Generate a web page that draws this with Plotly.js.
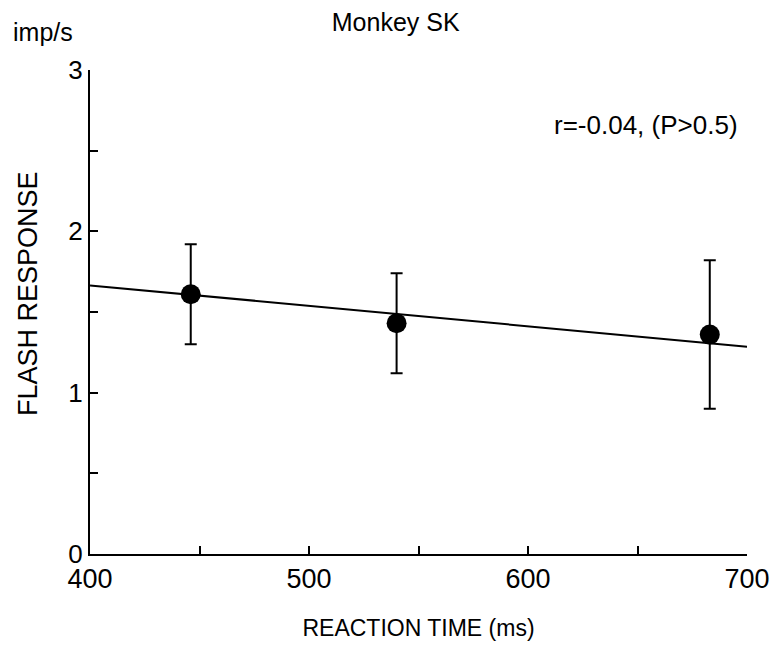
<!DOCTYPE html>
<html>
<head>
<meta charset="utf-8">
<script src="https://cdn.plot.ly/plotly-3.0.1.min.js"></script>
<style>
  body { margin: 0; background: #fff; }
  #chart { width: 782px; height: 648px; }
</style>
</head>
<body>
<div id="chart"></div>
<script>
// reaction time bins (ms) and mean flash response (imp/s)
var rt = [446, 540, 683];
var resp = [1.61, 1.43, 1.36];
var err = [0.31, 0.31, 0.46];

// regression line ends
var fitX = [400, 700];
var fitY = [1.665, 1.285];

var FONT = "Liberation Sans, Arial, sans-serif";

var points = {
    x: rt,
    y: resp,
    type: "scatter",
    mode: "markers",
    marker: { color: "black", size: 20 },
    error_y: {
        type: "data",
        array: err,
        visible: true,
        color: "black",
        thickness: 2,
        width: 6
    },
    hoverinfo: "none"
};

var fit = {
    x: fitX,
    y: fitY,
    type: "scatter",
    mode: "lines",
    line: { color: "black", width: 2 },
    hoverinfo: "none"
};

Plotly.newPlot("chart", [fit, points], {
    width: 782,
    height: 648,
    showlegend: false,
    plot_bgcolor: "white",
    paper_bgcolor: "white",
    font: { family: FONT, color: "black" },
    margin: { l: 90, r: 35, t: 70, b: 94 },
    title: {
        text: "Monkey SK",
        font: { size: 25 },
        x: 0.506,
        xanchor: "center",
        y: 0.966,
        yanchor: "middle"
    },
    xaxis: {
        range: [400, 700],
        tickvals: [400, 500, 600, 700],
        ticks: "inside",
        ticklen: 8,
        tickwidth: 2,
        tickcolor: "black",
        tickfont: { size: 27 },
        showline: true,
        linewidth: 2,
        linecolor: "black",
        showgrid: false,
        zeroline: false,
        minor: { dtick: 50, tick0: 400, ticks: "inside", ticklen: 8, tickwidth: 2, tickcolor: "black", showgrid: false },
        title: { text: "REACTION TIME (ms)", font: { size: 23 }, standoff: 26 }
    },
    yaxis: {
        range: [0, 3],
        tickvals: [0, 1, 2, 3],
        ticks: "inside",
        ticklen: 8,
        tickwidth: 2,
        tickcolor: "black",
        tickfont: { size: 26 },
        showline: true,
        linewidth: 2,
        linecolor: "black",
        showgrid: false,
        zeroline: false,
        minor: { dtick: 0.5, tick0: 0, ticks: "inside", ticklen: 8, tickwidth: 2, tickcolor: "black", showgrid: false }
    },
    annotations: [
        {
            text: "FLASH RESPONSE",
            textangle: -90,
            xref: "paper", yref: "paper",
            x: -0.0944, y: 0.539,
            xanchor: "center", yanchor: "middle",
            showarrow: false,
            font: { size: 27 }
        },
        {
            text: "imp/s",
            xref: "paper", yref: "paper",
            x: -0.12, y: 1.078,
            xanchor: "left", yanchor: "middle",
            showarrow: false,
            font: { size: 25 }
        },
        {
            text: "r=-0.04, (P>0.5)",
            xref: "paper", yref: "paper",
            x: 0.989, y: 0.887,
            xanchor: "right", yanchor: "middle",
            showarrow: false,
            font: { size: 26 }
        }
    ]
}, {
    displayModeBar: false,
    staticPlot: true
});
</script>
</body>
</html>
